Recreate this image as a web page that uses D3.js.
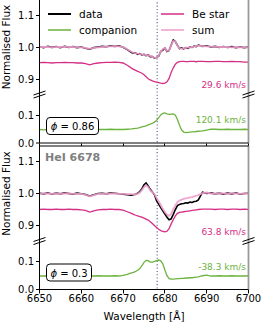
<!DOCTYPE html>
<html><head><meta charset="utf-8">
<script src="https://cdn.jsdelivr.net/npm/d3@7"></script>
<style>body{margin:0;background:#fff}svg{display:block}text{font-family:"DejaVu Sans",sans-serif}</style>
</head><body><svg id="c" width="262" height="327"></svg>
<script>
// wavelength grid (Å)
const wavelength = [6650,6651,6652,6653,6654,6655,6656,6657,6658,6659,6660,6661,6662,6663,6664,6665,6666,6667,6668,6669,6670,6671,6672,
 6672.5,6673,6673.5,6674,6674.5,6675,6675.5,6676,6676.5,6677,6677.5,6678,6678.5,6679,6679.5,6680,6680.5,6681,6681.5,6682,6682.5,6683,6683.5,6684,6684.5,6685,6685.5,6686,6686.5,6687,6687.5,6688,
 6689,6690,6691,6692,6693,6694,6695,6696,6697,6698,6699,6700];

// phase 0.86
const dataP1 = [1.001,0.998,1.002,0.999,1.001,0.998,1.002,0.999,1.001,0.998,1.000,0.996,0.993,0.998,1.000,1.002,1.001,1.004,1.002,1.004,0.999,0.992,0.983,
 0.981,0.981,0.977,0.979,0.975,0.977,0.973,0.975,0.970,0.970,0.965,0.967,0.971,0.986,0.990,0.997,0.986,0.989,1.006,1.022,1.017,1.005,0.995,0.997,0.994,0.998,0.996,1.000,0.999,1.003,1.001,1.006,
 1.002,1.004,1.000,1.002,0.999,1.001,0.999,1.001,0.998,1.000,0.998,1.000];
const sumP1 = [1.000,1.000,1.000,0.999,1.000,1.000,1.001,1.000,1.000,0.999,0.999,0.997,0.994,0.997,0.999,1.000,1.001,1.002,1.003,1.002,1.000,0.993,0.985,
 0.982,0.980,0.979,0.978,0.977,0.976,0.975,0.974,0.972,0.969,0.966,0.966,0.973,0.985,0.994,0.997,0.988,0.990,1.006,1.019,1.018,1.004,0.996,0.995,0.996,0.997,0.998,0.999,1.000,1.001,1.002,1.004,
 1.003,1.002,1.001,1.001,1.000,1.000,1.000,0.999,1.000,0.999,0.999,0.999];
const beP1 = [0.951,0.952,0.951,0.950,0.951,0.951,0.952,0.951,0.951,0.950,0.950,0.948,0.944,0.948,0.950,0.951,0.952,0.952,0.953,0.952,0.950,0.943,0.934,
 0.930,0.927,0.924,0.921,0.918,0.913,0.907,0.901,0.897,0.894,0.892,0.890,0.889,0.887,0.886,0.887,0.891,0.902,0.920,0.935,0.946,0.952,0.954,0.955,0.955,0.954,0.954,0.955,0.955,0.955,0.954,0.955,
 0.955,0.954,0.954,0.955,0.955,0.954,0.954,0.955,0.954,0.954,0.953,0.953];
const compP1 = [0.049,0.048,0.049,0.050,0.049,0.049,0.048,0.049,0.049,0.050,0.049,0.049,0.050,0.049,0.049,0.049,0.049,0.050,0.049,0.049,0.049,0.050,0.051,
 0.052,0.053,0.054,0.056,0.058,0.060,0.062,0.065,0.068,0.071,0.075,0.081,0.090,0.100,0.106,0.107,0.104,0.102,0.103,0.104,0.099,0.084,0.064,0.047,0.040,0.038,0.039,0.040,0.041,0.041,0.042,0.043,
 0.044,0.047,0.050,0.050,0.049,0.049,0.050,0.049,0.049,0.049,0.050,0.049];

// phase 0.3
const dataP2 = [1.001,0.999,1.002,0.998,1.001,0.999,1.002,1.000,0.998,1.001,0.999,0.997,0.992,0.996,1.000,1.001,0.999,1.002,1.001,0.999,0.998,0.996,0.995,
 0.996,0.998,1.001,1.006,1.015,1.027,1.033,1.024,1.013,1.005,0.996,0.978,0.967,0.956,0.946,0.936,0.926,0.918,0.921,0.935,0.950,0.962,0.966,0.968,0.969,0.971,0.970,0.973,0.972,0.975,0.976,0.980,
 1.004,1.000,1.002,0.999,1.001,0.998,1.001,0.999,1.002,0.998,1.000,1.001];
const sumP2 = [0.999,1.000,1.000,0.999,1.000,0.999,1.000,1.000,0.999,0.999,0.999,0.996,0.991,0.995,0.999,0.999,0.999,1.000,1.000,0.999,0.999,0.998,0.998,
 0.997,0.997,0.999,1.003,1.011,1.020,1.026,1.020,1.010,1.004,0.998,0.986,0.976,0.964,0.952,0.942,0.934,0.930,0.936,0.950,0.963,0.973,0.978,0.981,0.983,0.985,0.986,0.988,0.989,0.991,0.993,0.995,
 1.001,1.003,1.000,0.999,1.001,1.000,0.999,1.001,1.000,0.999,1.000,1.000];
const beP2 = [0.950,0.951,0.950,0.950,0.951,0.950,0.950,0.951,0.950,0.950,0.949,0.947,0.942,0.946,0.949,0.950,0.950,0.951,0.950,0.950,0.948,0.943,0.938,
 0.935,0.932,0.930,0.928,0.926,0.923,0.920,0.917,0.912,0.906,0.900,0.894,0.888,0.884,0.882,0.880,0.882,0.890,0.905,0.918,0.930,0.938,0.941,0.942,0.943,0.944,0.945,0.946,0.947,0.948,0.949,0.950,
 0.951,0.951,0.951,0.950,0.951,0.951,0.950,0.951,0.951,0.950,0.951,0.950];
const compP2 = [0.049,0.049,0.050,0.049,0.049,0.049,0.050,0.049,0.049,0.049,0.050,0.049,0.049,0.049,0.050,0.049,0.049,0.049,0.050,0.049,0.051,0.055,0.060,
 0.062,0.065,0.069,0.075,0.085,0.097,0.104,0.103,0.098,0.098,0.100,0.103,0.105,0.102,0.092,0.070,0.050,0.040,0.038,0.038,0.039,0.040,0.040,0.041,0.041,0.042,0.042,0.043,0.043,0.044,0.045,0.046,
 0.050,0.052,0.049,0.049,0.050,0.049,0.049,0.050,0.049,0.049,0.049,0.050];

const phases = ["0.86","0.3"];
const beVelocities = ["29.6 km/s","63.8 km/s"];
const compVelocities = ["120.1 km/s","-38.3 km/s"];
const xTicks = [6650,6660,6670,6680,6690,6700];
const upperTicks = [0.9,1.0,1.1];
const lowerTicks = [0.0,0.1];
const lineCentre = 6678.15;
const lineLabel = "HeI 6678";
const legendItems = [["data","#000000"],["companion","#6db33f"],["Be star","#d42f86"],["sum","#ee9ccb"]];

const C = {data:"#000000", sum:"#ee9ccb", be:"#d42f86", comp:"#6db33f"};

const svg = d3.select("#c");
const x = d3.scaleLinear().domain([6650,6700]).range([39.5,248.5]);
const panels = [
 {top:-1, data:dataP1, sum:sumP1, be:beP1, comp:compP1, phase:phases[0], vBe:beVelocities[0], vComp:compVelocities[0]},
 {top:145.5, data:dataP2, sum:sumP2, be:beP2, comp:compP2, phase:phases[1], vBe:beVelocities[1], vComp:compVelocities[1]}
];
const defs = svg.append("defs");

panels.forEach((p,i)=>{
  const T = p.top, UH = 96, H = 144.5;
  const yU = d3.scaleLinear().domain([0.85,1.15]).range([T+UH, T]);
  const yL = d3.scaleLinear().domain([0,0.17]).range([T+H, T+UH]);
  defs.append("clipPath").attr("id","cu"+i).append("rect").attr("x",39.5).attr("y",T).attr("width",209).attr("height",UH);
  defs.append("clipPath").attr("id","cl"+i).append("rect").attr("x",39.5).attr("y",T+UH).attr("width",209).attr("height",H-UH);

  const gU = svg.append("g").attr("clip-path",`url(#cu${i})`);
  const gL = svg.append("g").attr("clip-path",`url(#cl${i})`);
  const lineU = arr => d3.line().x((d,j)=>x(wavelength[j])).y(d=>yU(d))(arr);
  const lineL = arr => d3.line().x((d,j)=>x(wavelength[j])).y(d=>yL(d))(arr);

  // dotted line centre
  [gU,gL].forEach(g=>g.append("line").attr("x1",x(lineCentre)).attr("x2",x(lineCentre)).attr("y1",T).attr("y2",T+H)
     .attr("stroke","#4f5d80").attr("stroke-width",1.1).attr("stroke-dasharray","1.1,2.2"));

  gU.append("path").attr("d",lineU(p.be)).attr("fill","none").attr("stroke",C.be).attr("stroke-width",1.3);
  gU.append("path").attr("d",lineU(p.data)).attr("fill","none").attr("stroke",C.data).attr("stroke-width",1.6);
  gU.append("path").attr("d",lineU(p.sum)).attr("fill","none").attr("stroke",C.sum).attr("stroke-width",1.8).attr("stroke-opacity",0.9);
  gL.append("path").attr("d",lineL(p.comp)).attr("fill","none").attr("stroke",C.comp).attr("stroke-width",1.3);

  // spines
  svg.append("line").attr("x1",39.5).attr("x2",39.5).attr("y1",T).attr("y2",T+H).attr("stroke","#000").attr("stroke-width",1);
  svg.append("line").attr("x1",248.5).attr("x2",248.5).attr("y1",T).attr("y2",T+H).attr("stroke","#999").attr("stroke-width",1.8);
  svg.append("line").attr("x1",39.5).attr("x2",248.5).attr("y1",T+0.5).attr("y2",T+0.5).attr("stroke","#000").attr("stroke-width",1);
  svg.append("line").attr("x1",39.5).attr("x2",248.5).attr("y1",T+H-0.5).attr("y2",T+H-0.5).attr("stroke","#000").attr("stroke-width",1);

  // break marks
  [39.5,248.5].forEach(bx=>{
    [T+UH-2,T+UH+1].forEach(by=>{
      svg.append("line").attr("x1",bx-6).attr("y1",by+2).attr("x2",bx+6).attr("y2",by-2).attr("stroke","#000").attr("stroke-width",1);
    });
  });

  // y ticks
  upperTicks.forEach(t=>{
    const yy = Math.round(yU(t))+0.5;
    svg.append("line").attr("x1",36).attr("x2",39.5).attr("y1",yy).attr("y2",yy).attr("stroke","#000");
    svg.append("text").attr("x",34).attr("y",yy).attr("dy","0.36em").attr("text-anchor","end").attr("font-size",10).text(t.toFixed(1));
  });
  lowerTicks.forEach(t=>{
    const yy = Math.min(Math.round(yL(t))+0.5, T+H-0.5);
    svg.append("line").attr("x1",36).attr("x2",39.5).attr("y1",yy).attr("y2",yy).attr("stroke","#000");
    svg.append("text").attr("x",34).attr("y",yy).attr("dy","0.36em").attr("text-anchor","end").attr("font-size",10).text(t.toFixed(1));
  });

  // x ticks
  xTicks.forEach(t=>{
    const xx = Math.round(x(t)-0.5)+0.5;
    if(i===1){
      svg.append("line").attr("x1",xx).attr("x2",xx).attr("y1",T+H).attr("y2",T+H+3.5).attr("stroke","#000");
      svg.append("text").attr("x",x(t)).attr("y",302).attr("text-anchor","middle").attr("font-size",10).text(t);
    } else {
      svg.append("line").attr("x1",xx).attr("x2",xx).attr("y1",T+H).attr("y2",T+H+2.5).attr("stroke","#000");
    }
  });

  // y label
  svg.append("text").attr("transform",`translate(10,${T+UH/2}) rotate(-90)`).attr("text-anchor","middle").attr("font-size",10.5).text("Normalised Flux");

  // velocity labels
  svg.append("text").attr("x",246).attr("y",T+UH-7).attr("text-anchor","end").attr("font-size",9).attr("fill",C.be).text(p.vBe);
  svg.append("text").attr("x",246).attr("y",T+UH+28).attr("text-anchor","end").attr("font-size",9).attr("fill",C.comp).text(p.vComp);

  // phase box
  const bw = p.phase.length>3?52:45;
  svg.append("rect").attr("x",46.5).attr("y",T+UH+22.5).attr("width",bw).attr("height",17).attr("rx",3.5)
     .attr("fill","#fff").attr("stroke","#000").attr("stroke-width",1);
  const tt = svg.append("text").attr("x",46.5+bw/2).attr("y",T+UH+35).attr("text-anchor","middle").attr("font-size",10);
  tt.append("tspan").attr("font-style","italic").text("ϕ");
  tt.append("tspan").text(" = "+p.phase);
});

// HeI label
svg.append("text").attr("x",45).attr("y",161).attr("font-size",11).attr("font-weight","bold").attr("fill","#808080").text(lineLabel);

// x label
svg.append("text").attr("x",144).attr("y",320).attr("text-anchor","middle").attr("font-size",10.5).text("Wavelength [Å]");

// legend
const legPos = [[48,14],[48,30],[161,14],[161,30]];
legendItems.forEach((it,k)=>{
  const [lx,ly] = legPos[k];
  svg.append("line").attr("x1",lx).attr("x2",lx+23).attr("y1",ly).attr("y2",ly).attr("stroke",it[1]).attr("stroke-width",k===0?2:1.5);
  svg.append("text").attr("x",lx+31).attr("y",ly).attr("dy","0.36em").attr("font-size",10.5).text(it[0]);
});
</script></body></html>
